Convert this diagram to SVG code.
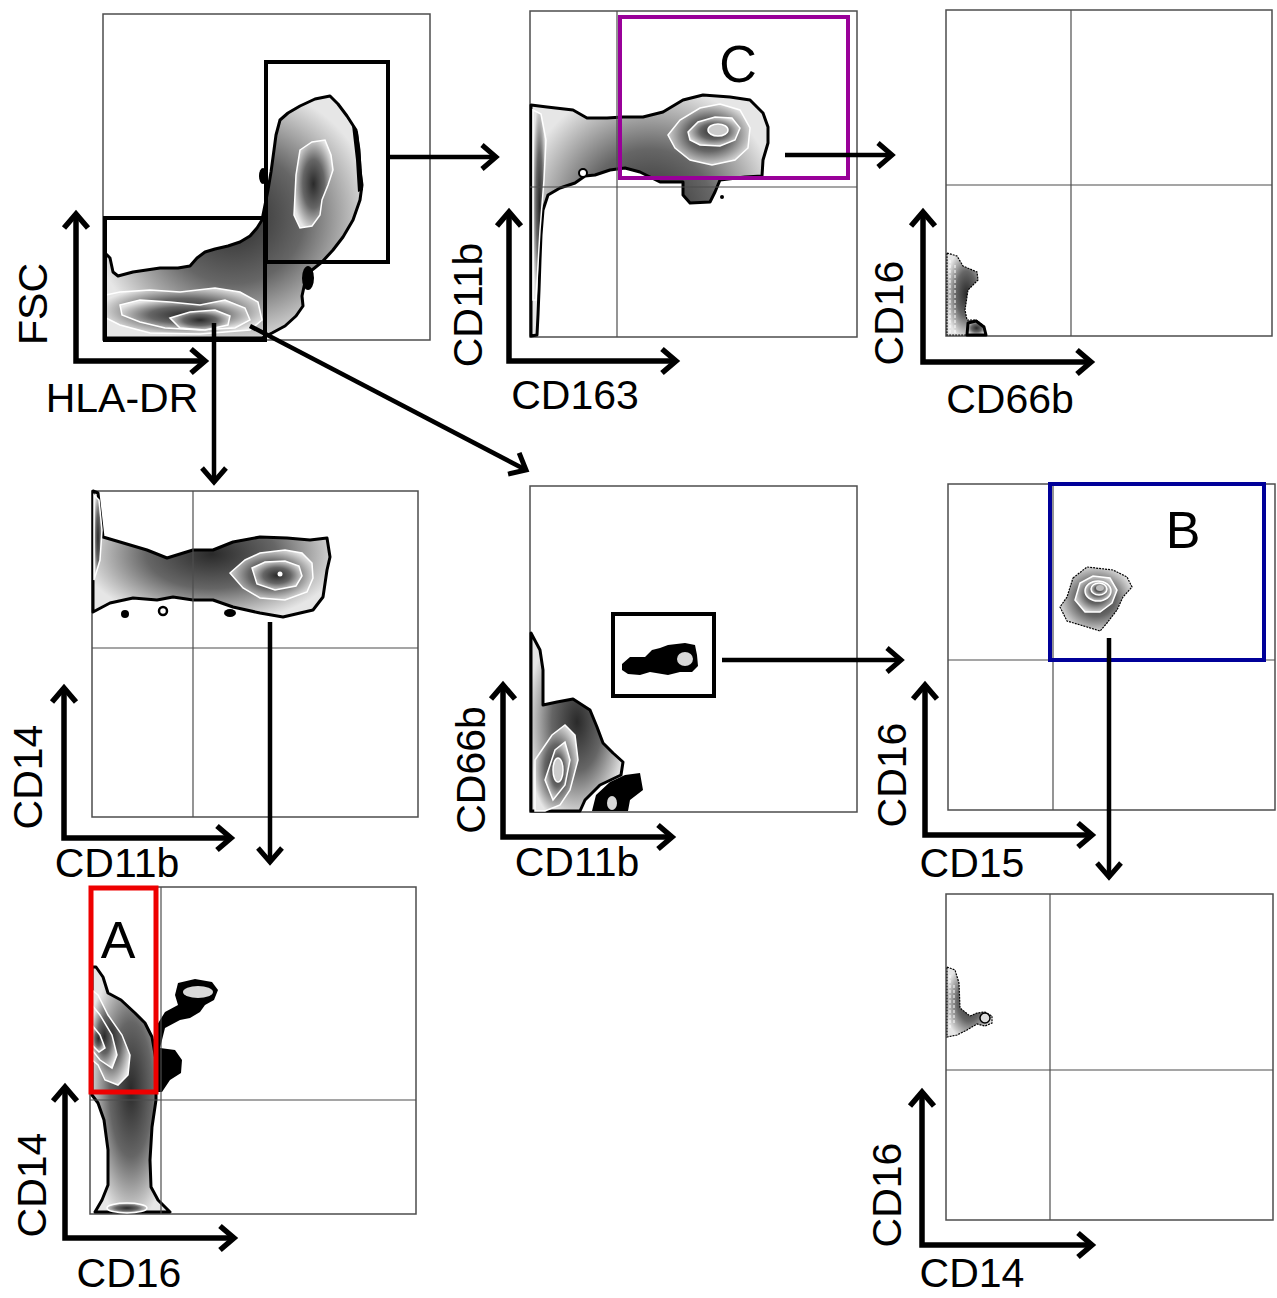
<svg xmlns="http://www.w3.org/2000/svg" width="1277" height="1298" viewBox="0 0 1277 1298">
<defs>
<radialGradient id="band" cx="50%" cy="50%" r="55%">
<stop offset="0" stop-color="#2a2a2a"/>
<stop offset="0.5" stop-color="#666"/>
<stop offset="1" stop-color="#e6e6e6"/>
</radialGradient>
<marker id="ah" markerUnits="userSpaceOnUse" viewBox="-20 -16 26 32" refX="0" refY="0" markerWidth="26" markerHeight="32" orient="auto-start-reverse" overflow="visible">
<path d="M-14,-12 L0,0 L-14,12" fill="none" stroke="#000" stroke-width="5.5"/>
</marker>
<marker id="ah2" markerUnits="userSpaceOnUse" viewBox="-20 -16 26 32" refX="0" refY="0" markerWidth="26" markerHeight="32" orient="auto" overflow="visible">
<path d="M-14,-12 L0,0 L-14,12" fill="none" stroke="#000" stroke-width="5"/>
</marker>
</defs>
<style>
.frame{fill:#fff;stroke:#4d4d4d;stroke-width:1.5}
.q{stroke:#4d4d4d;stroke-width:1.2}
.gate{fill:none;stroke:#000;stroke-width:4}
.ax{fill:none;stroke:#000;stroke-width:5.5;marker-start:url(#ah);marker-end:url(#ah)}
.con{fill:none;stroke:#000;stroke-width:4.5;marker-end:url(#ah2)}
.lbl{font-family:"Liberation Sans",Arial,sans-serif;font-size:41px;text-anchor:middle;fill:#000}
.big{font-size:52px}
.blob{fill:url(#band);stroke:#000;stroke-width:3;stroke-linejoin:round}
.thin{fill:url(#band);stroke:#000;stroke-width:1.2;stroke-dasharray:2 1}
.ring{fill:url(#band);stroke:#fff;stroke-width:1.5}
.blk{fill:#000}
.lt{fill:#d8d8d8}
</style>

<g id="panel-hla-fsc">
<rect class="frame" x="103" y="14" width="327" height="326"/>
<path class="blob" d="M105,253 L110,258 L113,272 L118,276 L133,272 L160,268 L178,268 L190,266 L197,258 L205,252 L215,249 L228,246 L240,242 L250,236 L257,228 L262,220 L265,205 L268,190 L271,172 L274,150 L276,135 L280,120 L288,113 L300,106 L315,99 L330,96 L338,104 L347,116 L356,130 L359,150 L360,170 L362,185 L360,200 L353,220 L343,237 L333,250 L322,262 L312,270 L305,282 L302,296 L303,306 L296,316 L285,326 L272,333 L262,338 L105,338 Z"/>
<ellipse class="blk" cx="263" cy="176" rx="4" ry="8"/>
<ellipse class="blk" cx="308" cy="278" rx="6" ry="12"/>
<path class="blk" d="M352,125 L358,132 L361,160 L363,190 L358,192 L356,160 Z"/>
<path class="ring" d="M300,150 L312,142 L325,140 L331,155 L333,170 L328,185 L322,200 L320,215 L312,226 L300,228 L294,215 L295,195 L296,175 Z"/>
<path class="ring" d="M106,295 L120,292 L150,290 L180,292 L215,288 L240,292 L258,302 L262,320 L250,330 L200,334 L150,333 L120,325 L106,318 Z"/>
<path class="ring" d="M120,305 L140,300 L170,302 L200,305 L225,300 L245,308 L250,320 L235,328 L200,330 L165,328 L140,322 L122,315 Z"/>
<path class="ring" d="M170,318 L190,312 L215,310 L230,316 L228,325 L205,330 L180,328 Z"/>
<rect class="gate" x="266" y="62" width="122" height="200"/>
<rect class="gate" x="105" y="218" width="160" height="122"/>
<path class="ax" d="M76,214 L76,361 L205,361"/>
<text class="lbl" transform="translate(47,304) rotate(-90)">FSC</text>
<text class="lbl" x="122" y="412">HLA-DR</text>
</g>

<g id="panel-cd163-cd11b">
<rect class="frame" x="530" y="11" width="327" height="326"/>
<path class="blob" d="M531,105 L547,107 L573,110 L587,118 L607,118 L623,117 L643,117 L663,112 L683,100 L703,95 L730,97 L750,100 L763,113 L768,127 L768,143 L763,160 L762,176 L745,177 L720,180 L715,192 L710,202 L690,203 L683,195 L683,182 L660,182 L640,172 L625,168 L610,170 L595,175 L585,176 L575,183 L560,188 L548,195 L543,210 L541,235 L540,260 L539,290 L538,315 L537,335 L531,336 Z"/>
<circle cx="583" cy="173" r="4" fill="#fff" stroke="#000" stroke-width="2"/>
<circle class="blk" cx="722" cy="197" r="2"/>
<path class="ring" d="M533,110 L541,114 L546,140 L544,180 L540,230 L536,300 L533,300 Z"/>
<path class="ring" d="M668,135 L680,120 L700,108 L720,104 L740,110 L750,128 L748,148 L735,160 L712,165 L690,160 L675,148 Z"/>
<path class="ring" d="M688,132 L698,122 L715,117 L732,118 L740,128 L735,140 L720,146 L700,145 L690,140 Z"/>
<ellipse cx="718" cy="130" rx="10" ry="6" fill="#ccc" stroke="#fff" stroke-width="1.5"/>
<line class="q" x1="617" y1="11" x2="617" y2="337"/>
<line class="q" x1="530" y1="187" x2="857" y2="187"/>
<rect x="620" y="17" width="228" height="161" fill="none" stroke="#990099" stroke-width="4"/>
<text class="lbl big" x="738" y="82">C</text>
<path class="ax" d="M509,212 L509,361 L676,361"/>
<text class="lbl" transform="translate(482,305) rotate(-90)">CD11b</text>
<text class="lbl" x="575" y="409">CD163</text>
</g>

<g id="panel-cd66b-cd16-top">
<rect class="frame" x="946" y="10" width="326" height="326"/>
<path class="thin" d="M947,253 L957,256 L963,266 L977,272 L978,280 L968,290 L965,310 L967,320 L976,320 L984,326 L986,335 L947,335 Z"/>
<path class="blob" d="M967,335 L968,323 L976,321 L984,327 L986,335 Z"/>
<path d="M950,260 L950,333 M955,265 L955,333" stroke="#fff" stroke-width="1" stroke-dasharray="3 2"/>
<line class="q" x1="1071" y1="10" x2="1071" y2="336"/>
<line class="q" x1="946" y1="185" x2="1272" y2="185"/>
<path class="ax" d="M923,212 L923,362 L1091,362"/>
<text class="lbl" transform="translate(903,313) rotate(-90)">CD16</text>
<text class="lbl" x="1010" y="413">CD66b</text>
</g>

<g id="panel-cd11b-cd14">
<rect class="frame" x="92" y="491" width="326" height="326"/>
<path class="blob" d="M93,491 L98,493 L103,537 L120,542 L147,550 L167,558 L193,550 L213,550 L233,542 L260,537 L287,538 L310,540 L327,538 L330,557 L327,570 L323,597 L313,610 L283,617 L260,613 L233,607 L213,600 L193,600 L173,597 L157,600 L133,598 L110,603 L93,612 Z"/>
<circle class="blk" cx="125" cy="614" r="4"/>
<circle cx="163" cy="611" r="4" fill="#fff" stroke="#000" stroke-width="2.5"/>
<ellipse class="blk" cx="230" cy="613" rx="6" ry="4"/>
<path class="ring" d="M94,495 L99,500 L102,530 L100,560 L94,580 Z"/>
<path class="ring" d="M230,573 L245,560 L260,553 L285,550 L302,553 L312,563 L313,578 L307,592 L285,600 L260,598 L243,588 Z"/>
<path class="ring" d="M252,568 L265,562 L285,561 L299,566 L302,576 L296,586 L275,590 L257,584 Z"/>
<circle cx="280" cy="574" r="2.5" fill="#fff"/>
<line class="q" x1="193" y1="491" x2="193" y2="817"/>
<line class="q" x1="92" y1="648" x2="418" y2="648"/>
<path class="ax" d="M64,688 L64,838 L231,838"/>
<text class="lbl" transform="translate(42,777) rotate(-90)">CD14</text>
<text class="lbl" x="117" y="877">CD11b</text>
</g>

<g id="panel-cd11b-cd66b">
<rect class="frame" x="530" y="486" width="327" height="326"/>
<path class="blob" d="M531,633 L540,650 L543,670 L543,705 L557,702 L573,699 L590,710 L597,727 L603,743 L613,753 L623,762 L621,775 L600,785 L585,800 L580,811 L531,811 Z"/>
<path class="blk" d="M592,811 L596,795 L610,782 L625,775 L640,773 L643,790 L630,800 L628,811 Z"/>
<ellipse class="lt" cx="612" cy="803" rx="5" ry="7"/>
<path class="ring" d="M535,760 L552,735 L565,725 L575,735 L578,760 L570,790 L560,805 L545,811 L535,811 Z"/>
<path class="ring" d="M545,780 L555,750 L565,742 L570,760 L565,785 L553,800 Z"/>
<ellipse cx="558" cy="770" rx="5" ry="12" fill="#ccc" stroke="#fff" stroke-width="1.5"/>
<rect class="gate" x="613" y="614" width="101" height="82"/>
<path class="blk" d="M622,664 L630,657 L645,657 L652,650 L660,648 L668,645 L685,643 L695,645 L697,655 L698,666 L692,672 L680,672 L668,675 L650,672 L640,675 L628,674 L622,670 Z"/>
<ellipse class="lt" cx="685" cy="659" rx="8" ry="7"/>
<path class="ax" d="M503,685 L503,837 L672,837"/>
<text class="lbl" transform="translate(485,770) rotate(-90)">CD66b</text>
<text class="lbl" x="577" y="876">CD11b</text>
</g>

<g id="panel-cd15-cd16">
<rect class="frame" x="948" y="484" width="327" height="326"/>
<path class="thin" d="M1073,578 L1087,567 L1113,570 L1127,577 L1132,587 L1123,597 L1117,610 L1107,623 L1100,631 L1087,627 L1067,621 L1060,607 L1067,597 Z"/>
<path class="ring" d="M1075,600 L1080,583 L1093,576 L1110,578 L1117,590 L1112,603 L1100,612 L1085,612 Z"/>
<ellipse class="ring" cx="1098" cy="591" rx="13" ry="10"/>
<ellipse class="ring" cx="1099" cy="589" rx="8" ry="6"/>
<ellipse cx="1100" cy="588" rx="4" ry="3" fill="#bbb"/>
<line class="q" x1="1053" y1="484" x2="1053" y2="810"/>
<line class="q" x1="948" y1="660" x2="1275" y2="660"/>
<rect x="1050" y="484" width="214" height="176" fill="none" stroke="#000099" stroke-width="4"/>
<text class="lbl big" x="1183" y="548">B</text>
<path class="ax" d="M925,685 L925,835 L1092,835"/>
<text class="lbl" transform="translate(906,775) rotate(-90)">CD16</text>
<text class="lbl" x="972" y="877">CD15</text>
</g>

<g id="panel-cd16-cd14">
<rect class="frame" x="90" y="887" width="326" height="327"/>
<path class="blk" d="M154,1030 L165,1012 L178,1005 L175,995 L178,983 L195,979 L212,982 L218,990 L214,1000 L205,1005 L200,1012 L190,1018 L180,1020 L165,1028 L160,1048 L175,1050 L182,1060 L181,1073 L170,1080 L162,1092 L154,1092 Z"/>
<ellipse class="lt" cx="198" cy="992" rx="15" ry="6"/>
<path class="blob" d="M92,967 L96,967 L103,977 L108,993 L121,1000 L135,1013 L145,1023 L152,1037 L156,1060 L156,1092 L156,1100 L152,1127 L150,1160 L151,1187 L158,1200 L170,1212 L95,1212 L102,1200 L108,1185 L108,1150 L104,1120 L98,1103 L92,1095 Z"/>
<path class="ring" d="M92,990 L98,995 L108,1015 L122,1035 L130,1055 L128,1075 L118,1085 L105,1080 L98,1065 L92,1060 Z"/>
<path class="ring" d="M92,1005 L100,1015 L112,1035 L117,1055 L112,1068 L100,1060 L92,1050 Z"/>
<path class="ring" d="M92,1025 L100,1035 L105,1048 L99,1052 L92,1045 Z"/>
<ellipse class="ring" cx="127" cy="1208" rx="20" ry="5"/>
<line class="q" x1="161" y1="887" x2="161" y2="1214"/>
<line class="q" x1="90" y1="1100" x2="416" y2="1100"/>
<rect x="91" y="888" width="65" height="204" fill="none" stroke="#ee0000" stroke-width="5"/>
<text class="lbl big" x="118" y="958">A</text>
<path class="ax" d="M65,1087 L65,1238 L234,1238"/>
<text class="lbl" transform="translate(46,1185) rotate(-90)">CD14</text>
<text class="lbl" x="129" y="1287">CD16</text>
</g>

<g id="panel-cd14-cd16">
<rect class="frame" x="946" y="894" width="327" height="326"/>
<path class="thin" d="M947,967 L955,970 L959,983 L960,1008 L970,1016 L977,1013 L985,1012 L992,1016 L992,1023 L985,1026 L977,1024 L967,1030 L957,1035 L947,1037 Z"/>
<path d="M950,975 L950,1030 M954,985 L954,1025" stroke="#fff" stroke-width="1" stroke-dasharray="3 2"/>
<circle cx="985" cy="1018" r="5" fill="#ddd" stroke="#000" stroke-width="1.5"/>
<line class="q" x1="1050" y1="894" x2="1050" y2="1220"/>
<line class="q" x1="946" y1="1070" x2="1273" y2="1070"/>
<path class="ax" d="M922,1092 L922,1245 L1092,1245"/>
<text class="lbl" transform="translate(901,1195) rotate(-90)">CD16</text>
<text class="lbl" x="972" y="1287">CD14</text>
</g>

<g id="connectors">
<path class="con" d="M388,157 L496,157"/>
<path class="con" d="M214,323 L214,482"/>
<path class="con" d="M250,326 L526,470"/>
<path class="con" d="M785,155 L892,155"/>
<path class="con" d="M270,622 L270,862"/>
<path class="con" d="M722,660 L901,660"/>
<path class="con" d="M1109,638 L1109,877"/>
</g>
</svg>
